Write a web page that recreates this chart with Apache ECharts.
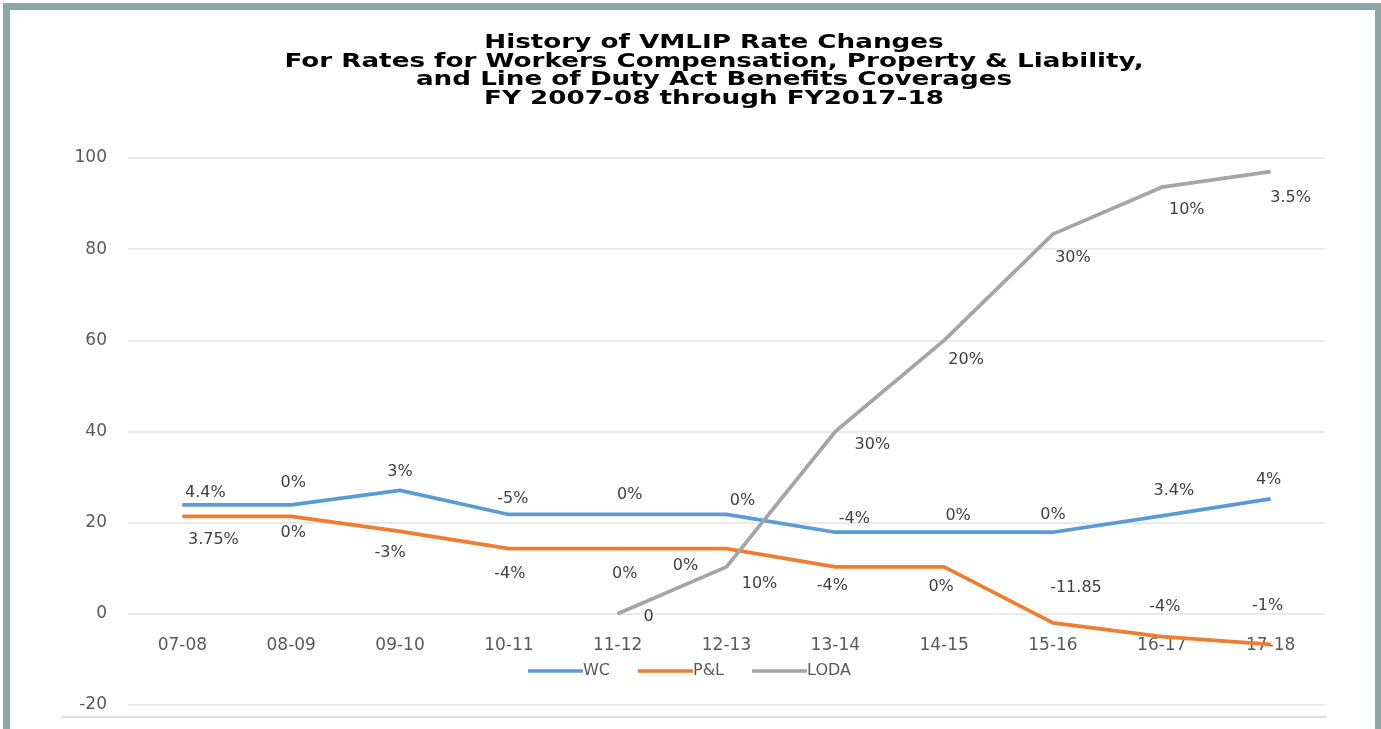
<!DOCTYPE html>
<html>
<head>
<meta charset="utf-8">
<script src="https://cdn.jsdelivr.net/npm/echarts@6/dist/echarts.min.js"></script>
<style>
  html, body { margin: 0; padding: 0; background: #fff; }
  #chart { position: absolute; left: 0; top: 0; width: 1381px; height: 729px; }
  .frame {
    position: absolute; left: 3px; top: 3px; width: 1365px; height: 760px;
    border: 7px solid #8fa5a2; pointer-events: none;
  }
</style>
</head>
<body>
<div id="chart"></div>
<div class="frame"></div>
<script>
const categories = ['07-08', '08-09', '09-10', '10-11', '11-12', '12-13', '13-14', '14-15', '15-16', '16-17', '17-18'];
const yTicks = [-20, 0, 20, 40, 60, 80, 100];

const wcValues = [23.9, 23.9, 27.1, 21.8, 21.8, 21.8, 17.9, 17.9, 17.9, 21.5, 25.2];
const plValues = [21.4, 21.4, 18.1, 14.3, 14.3, 14.3, 10.3, 10.3, -2.0, -5.0, -6.7];
const lodaValues = [null, null, null, null, 0, 10.3, 40, 60, 83.3, 93.6, 97];

const wcLabels = ['4.4%', '0%', '3%', '-5%', '0%', '0%', '-4%', '0%', '0%', '3.4%', '4%'];
const plLabels = ['3.75%', '0%', '-3%', '-4%', '0%', '0%', '-4%', '0%', '-11.85', '-4%', '-1%'];
const lodaLabels = ['', '', '', '', '0', '10%', '30%', '20%', '30%', '10%', '3.5%'];

// where each label sits relative to its point (the original labels were moved by hand)
const wcOffsets = [[23, -12], [2, -22], [0, -18], [4, -16], [12, -20], [16, -14], [19, -13], [14, -16], [0, -17], [12, -25], [-2, -19]];
const plOffsets = [[31, 24], [2, 17], [-10, 22], [1, 25], [7, 25], [-41, 17], [-3, 19], [-3, 20], [23, -35], [3, -30], [-3, -39]];
const lodaOffsets = [[0, 0], [0, 0], [0, 0], [0, 0], [31, 3], [33, 17], [37, 13], [22, 20], [20, 24], [25, 23], [20, 26]];

const titleText = 'History of VMLIP Rate Changes\nFor Rates for Workers Compensation, Property & Liability,\nand Line of Duty Act Benefits Coverages\nFY 2007-08 through FY2017-18';

const FONT = "'DejaVu Sans', Verdana, sans-serif";

const GRID = { left: 128, right: 56, top: 158, bottom: 24 };
const yMin = yTicks[0];
const yMax = yTicks[yTicks.length - 1];
// category labels sit on the zero line, not on the bottom of the plot
const plotHeight = 729 - GRID.top - GRID.bottom;
const zeroLift = plotHeight * (0 - yMin) / (yMax - yMin);

const chart = echarts.init(document.getElementById('chart'));

const buildData = (values, labels, offsets) =>
  values.map((v, i) => v === null ? null : {
    value: v,
    label: { offset: offsets[i], formatter: labels[i] }
  });

const makeSeries = (name, color, values, labels, offsets) => ({
  name: name,
  type: 'line',
  data: buildData(values, labels, offsets),
  symbol: 'circle',
  symbolSize: 1,
  showSymbol: true,
  lineStyle: { color: color, width: 3.75 },
  itemStyle: { color: color },
  emphasis: { disabled: true },
  label: {
    show: true,
    position: 'inside',
    color: '#404040',
    fontSize: 16,
    fontFamily: FONT
  },
  animation: false
});

const option = {
  backgroundColor: '#fff',
  animation: false,
  graphic: [
    {
      // the title in the original is a stretched bitmap, so widen it a bit
      type: 'text',
      x: 714,
      y: 34,
      scaleX: 1.31,
      style: {
        text: titleText,
        fontFamily: FONT,
        fontWeight: 'bold',
        fontSize: 20,
        lineHeight: 18.4,
        fill: '#000',
        textAlign: 'center',
        textVerticalAlign: 'top'
      }
    },
    {
      type: 'line',
      shape: { x1: 61, y1: 717, x2: 1327, y2: 717 },
      style: { stroke: '#d4d4d4', lineWidth: 1.5 }
    }
  ],
  legend: {
    data: ['WC', 'P&L', 'LODA'],
    left: 528,
    top: 663,
    padding: 0,
    icon: 'rect',
    itemWidth: 55,
    itemHeight: 3.5,
    itemGap: 28,
    textStyle: { color: '#595959', fontSize: 16, fontFamily: FONT, padding: [0, 0, 0, -5] }
  },
  grid: Object.assign({ outerBoundsMode: 'none', containLabel: false }, GRID),
  xAxis: {
    type: 'category',
    data: categories,
    boundaryGap: true,
    offset: -zeroLift,
    axisLine: { show: false, onZero: false },
    axisTick: { show: false },
    axisLabel: { color: '#595959', fontSize: 17, fontFamily: FONT, margin: 23 }
  },
  yAxis: {
    type: 'value',
    min: yMin,
    max: yMax,
    interval: 20,
    axisLine: { show: false, onZero: false },
    axisTick: { show: false },
    axisLabel: { color: '#595959', fontSize: 17, fontFamily: FONT, margin: 21 },
    splitLine: { lineStyle: { color: '#e3e3e3', width: 1.5 } }
  },
  series: [
    makeSeries('WC', '#5b9bd5', wcValues, wcLabels, wcOffsets),
    makeSeries('P&L', '#ed7d31', plValues, plLabels, plOffsets),
    makeSeries('LODA', '#a5a5a5', lodaValues, lodaLabels, lodaOffsets)
  ]
};

chart.setOption(option);
</script>
</body>
</html>
